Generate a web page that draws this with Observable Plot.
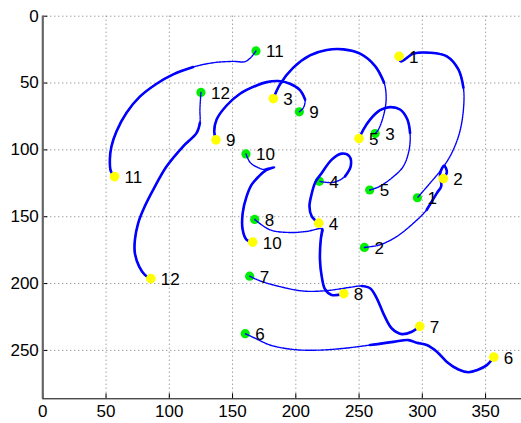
<!DOCTYPE html>
<html><head><meta charset="utf-8">
<script src="https://cdn.jsdelivr.net/npm/d3@7"></script>
<script src="https://cdn.jsdelivr.net/npm/@observablehq/plot@0.6"></script>
<style>body{margin:0;background:#fff}</style>
</head><body><div id="chart"></div>
<script>
const labels = ["1","2","3","4","5","6","7","8","9","10","11","12"];
const xTicks = [0, 50, 100, 150, 200, 250, 300, 350];
const yTicks = [0, 50, 100, 150, 200, 250];

// trajectories: first point = yellow start, last point = green end
const traj1 = [[281.6,30],[283,33.8],[293,28],[306,27.3],[319.4,30],[328.6,40],[332.5,53.5],[332.5,69.8],[329.4,87.2],[323.3,102.3],[316,113.5],[306,125],[296.1,135.8]];
const traj2 = [[316.6,121.5],[319.4,116.5],[317.2,111.8],[314,118],[315,127],[311.5,132.3],[303.5,144.8],[293,154.8],[279.8,164.8],[266.6,171],[254.2,173]];
const traj3 = [[182.2,61.7],[187.5,51],[198,38.5],[211.2,29.3],[224.4,25.3],[237.6,24.8],[250.8,28],[262.7,37.3],[269.8,49.7],[271.4,62.3],[269.2,74.8],[265.3,84.8],[262.7,87.8]];
const traj4 = [[218.1,154.8],[212.6,149.8],[210.8,142.3],[212.5,133],[215.5,124],[220.5,117.3],[228.4,107.3],[236.3,102.8],[242.3,104.8],[243.4,112.3],[238.9,119.8],[229.7,124.3],[218.6,123.5]];
const traj5 = [[250,91.5],[253.4,84.8],[258.7,77.3],[266.6,70.3],[274.5,68],[282.4,69.8],[288.2,77.3],[290.3,87.3],[289.6,99.8],[285,112.3],[275.9,121],[265.3,127.8],[258.4,130]];
const traj6 = [[356.5,255],[351,261],[343.1,264.8],[336.5,266.3],[328.6,264.3],[319.4,258.6],[311.5,251],[303.5,246],[295.6,244.3],[289,242.3],[277.1,243.6],[258.7,246],[237.6,248.5],[217.8,249.8],[198,249.3],[179.6,246],[168,241],[160,237.5]];
const traj7 = [[298,232],[291.7,236],[283.8,237.8],[275.9,233.6],[269.8,223.6],[264,211],[258.7,203.5],[252.1,201.8],[242.9,202.8],[224.4,205.3],[205.9,205.6],[187.5,202.3],[171.7,198],[163.5,194.5]];
const traj8 = [[237.9,207.6],[228.4,208.5],[223.1,204.3],[220.5,194.8],[219.1,182.3],[219.7,167.3],[221,159.3],[208.6,161],[195.4,161.8],[179.6,159.8],[167.5,152]];
const traj9 = [[136.9,92.5],[135.5,86],[137.4,77.3],[145.3,66.8],[155.9,58],[169,51.8],[177,49.3],[186.2,48.5],[195.4,50.5],[203.3,55.3],[207.3,62.3],[206,68.5],[202.8,71.5]];
const traj10 = [[165.9,169],[161.1,167.3],[158,159.8],[158,147.3],[161.1,134.8],[165.1,126],[170.3,120.3],[176,115.5],[182.8,113],[175.6,114.8],[169,112.8],[163.8,109.3],[160.6,103]];
const traj11 = [[56.7,120],[53.8,116],[53,107.3],[54.3,97.3],[58.3,86],[66.2,72.2],[76.7,60.2],[90,50.5],[103.1,43.5],[118.9,38],[134.7,34.8],[150.6,33.8],[159.8,34],[164.3,31],[168.5,26]];
const traj12 = [[85.4,196.3],[80.7,193.5],[76.2,187.3],[72.8,177.3],[72.8,167.3],[75.4,154.8],[79.4,144.8],[87.3,129.8],[97.9,112.3],[111,97.3],[121.6,87.3],[124.2,79.7],[124.2,69.8],[125,57]];

const trajectories = [traj1,traj2,traj3,traj4,traj5,traj6,traj7,traj8,traj9,traj10,traj11,traj12];

// style: index up to which each track is drawn thick (rest is thin/dotted)
const thickUntil = [6,6,8,10,7,11,7,6,10,9,9,11];

const rows = [], thick = [], starts = [], ends = [];
trajectories.forEach((t, k) => {
  t.forEach(([x, y], i) => {
    const r = {id: labels[k], x, y};
    rows.push(r);
    if (i <= thickUntil[k]) thick.push(r);
  });
  starts.push({id: labels[k], x: t[0][0], y: t[0][1]});
  ends.push({id: labels[k], x: t[t.length-1][0], y: t[t.length-1][1]});
});

const X0 = 0, X1 = 378.4, Y0 = 0, Y1 = 286.2;
const font = "'Liberation Sans', Arial, Helvetica, sans-serif";

const chart = Plot.plot({
  width: 521, height: 423,
  marginLeft: 42.3, marginRight: 0, marginTop: 15.7, marginBottom: 24.7,
  x: {domain: [X0, X1]},
  y: {domain: [Y0, Y1], reverse: true},
  style: {fontFamily: font, fontSize: "17px", background: "#fff", color: "#000", overflow: "visible"},
  marks: [
    Plot.gridX(xTicks.slice(1), {stroke: "#777", strokeOpacity: 1, strokeDasharray: "1,3"}),
    Plot.gridY(yTicks, {stroke: "#777", strokeOpacity: 1, strokeDasharray: "1,3"}),
    Plot.axisX(xTicks, {tickSize: -5, tickPadding: 11, fontSize: 17, label: null, stroke: "#000"}),
    Plot.axisY(yTicks, {tickSize: -5, tickPadding: 9, fontSize: 17, label: null, stroke: "#000"}),
    Plot.ruleX([X0], {stroke: "#666", strokeWidth: 2.2}),
    Plot.ruleY([Y1], {stroke: "#000", strokeWidth: 1}),
    Plot.dot(ends, {x: "x", y: "y", r: 4.6, fill: "#00ee00", stroke: null}),
    Plot.line(rows, {x: "x", y: "y", z: "id", curve: "catmull-rom", stroke: "#0000ff", strokeWidth: 1.4, strokeDasharray: "1.6,0.9"}),
    Plot.line(thick, {x: "x", y: "y", z: "id", curve: "catmull-rom", stroke: "#0000ff", strokeWidth: 2.6}),
    Plot.dot(starts, {x: "x", y: "y", r: 4.8, fill: "#ffff00", stroke: null}),
    Plot.text(starts, {x: "x", y: "y", text: "id", dx: 10, dy: 1, textAnchor: "start", fontSize: 17, fill: "#000"}),
    Plot.text(ends, {x: "x", y: "y", text: "id", dx: 10, dy: 1, textAnchor: "start", fontSize: 17, fill: "#000"})
  ]
});
document.getElementById("chart").appendChild(chart);
</script>
</body></html>
